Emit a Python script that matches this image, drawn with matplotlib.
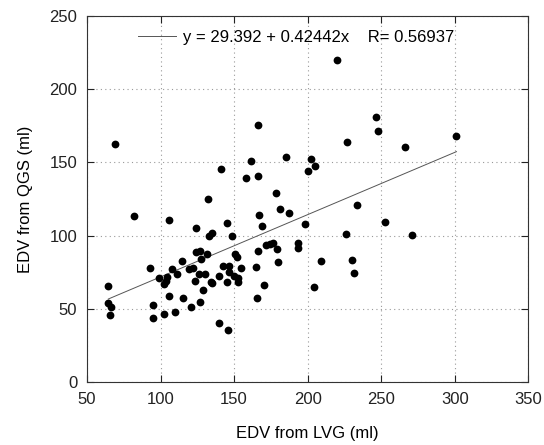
import matplotlib.pyplot as plt
import numpy as np

plt.rcParams['font.family'] = ['Liberation Sans', 'DejaVu Sans']

# EDV pairs (ml): LVG on x, QGS on y
edv_lvg = [69.0, 166.5, 141.2, 161.4, 185.2, 158.2, 166.1, 178.6, 200.1, 202.4,
           132.1, 220.3, 246.4, 247.8, 226.7, 301.2, 266.1, 204.9,
           181.5, 187.2, 82.0, 105.8, 166.8, 169.0, 198.5, 145.4, 123.9, 134.8,
           132.8, 148.4, 193.5, 193.5, 176.7, 174.5, 171.6, 179.3, 166.5, 123.9,
           126.9, 131.8, 150.7, 151.8, 127.3, 114.8, 179.9, 165.2, 142.3, 146.4,
           92.6, 107.8, 119.2, 122.1, 154.8, 111.0, 126.4, 130.1, 146.8, 140.0,
           150.2, 152.5, 152.5, 99.0, 104.4, 103.5, 102.6, 64.5, 123.3, 134.6,
           145.0, 135.2, 128.9, 170.6, 165.6, 106.0, 115.1, 126.9, 120.5, 64.5,
           66.1, 95.1, 65.6, 95.1, 102.4, 110.1, 139.8, 145.7,
           233.7, 252.5, 226.0, 271.1, 209.0, 230.5, 231.4, 204.6]
edv_qgs = [162.4, 175.2, 145.2, 151.1, 153.4, 139.1, 140.4, 129.2, 144.2, 152.2,
           124.7, 219.7, 181.0, 171.1, 164.0, 167.9, 160.2, 147.4,
           118.1, 115.2, 113.6, 110.4, 114.3, 106.3, 108.1, 108.4, 105.4, 101.6,
           99.7, 99.5, 95.2, 91.5, 95.2, 94.3, 93.4, 90.7, 89.3, 88.6,
           89.7, 87.5, 87.5, 85.6, 83.8, 82.9, 81.8, 78.6, 79.1, 79.3,
           77.9, 77.0, 77.0, 77.9, 77.7, 74.0, 74.0, 73.8, 75.4, 72.7,
           72.5, 71.3, 68.6, 70.9, 72.0, 69.3, 67.0, 65.9, 68.8, 68.4,
           68.6, 67.5, 62.9, 66.5, 57.5, 58.6, 57.7, 54.7, 51.3, 54.3,
           51.5, 52.7, 45.9, 43.8, 46.8, 47.7, 40.6, 35.7,
           121.1, 109.3, 101.1, 100.2, 82.7, 83.6, 74.5, 64.8]

intercept = 29.392
slope = 0.42442
r_value = 0.56937

fig = plt.figure(figsize=(5.44, 4.45), dpi=100)
ax = fig.add_axes([0.160, 0.141, 0.811, 0.824])

x_fit = np.array([min(edv_lvg), max(edv_lvg)])
ax.plot(x_fit, intercept + slope * x_fit, color='#555555', lw=0.7,
        label=f'y = {intercept} + {slope}x    R= {r_value}')
ax.plot(edv_lvg, edv_qgs, 'o', color='black', ms=5.6, markeredgewidth=0)

ax.set_xlim(50, 350)
ax.set_ylim(0, 250)
ax.set_xticks(range(50, 351, 50))
ax.set_yticks(range(0, 251, 50))
ax.grid(True, linestyle=(0, (1, 3)), color='#999999', lw=0.8)
ax.tick_params(direction='in', top=True, right=True, length=5, width=0.8,
               labelsize=12, colors='#222222', pad=7)
for s in ax.spines.values():
    s.set_linewidth(0.8)
    s.set_color('#333333')

ax.set_xlabel('EDV from LVG (ml)', fontsize=12, labelpad=14)
ax.set_ylabel('EDV from QGS (ml)', fontsize=12, labelpad=12)

ax.legend(loc='upper center', bbox_to_anchor=(0.473, 1.0), frameon=False,
          fontsize=12, handlelength=2.3, handletextpad=0.4,
          borderaxespad=0.45)

fig.savefig('out.png', dpi=100)
